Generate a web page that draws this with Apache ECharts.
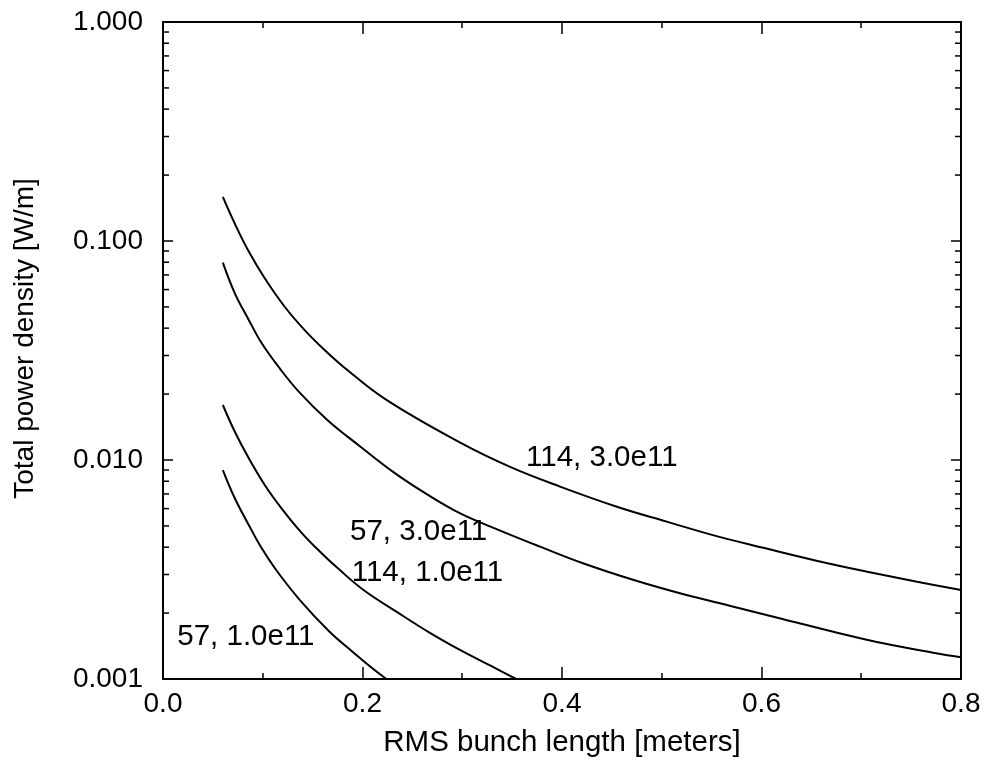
<!DOCTYPE html>
<html>
<head>
<meta charset="utf-8">
<script src="https://cdn.jsdelivr.net/npm/echarts@6/dist/echarts.min.js"></script>
<style>
html,body{margin:0;padding:0;background:#fff;}
#chart{width:985px;height:763px;}
</style>
</head>
<body>
<div id="chart"></div>
<script>
// ---- data ----
const xTickLabels = ['0.0','0.2','0.4','0.6','0.8'];
const yTickLabels = ['0.001','0.010','0.100','1.000'];

const xA = [0.06, 0.072, 0.086, 0.102, 0.122, 0.142, 0.162, 0.182, 0.224, 0.298, 0.348, 0.398, 0.455, 0.505, 0.555, 0.605, 0.655, 0.706, 0.756, 0.8];
const yA = [0.159, 0.120, 0.0895, 0.0676, 0.0501, 0.0392, 0.0318, 0.0264, 0.0188, 0.0120, 0.0093, 0.00756, 0.00612, 0.00523, 0.00449, 0.00394, 0.00347, 0.00309, 0.00278, 0.00255];

const xB = [0.06, 0.072, 0.086, 0.099, 0.117, 0.137, 0.165, 0.198, 0.231, 0.264, 0.298, 0.338, 0.378, 0.421, 0.472, 0.522, 0.572, 0.622, 0.672, 0.722, 0.772, 0.8];
const yB = [0.0796, 0.0577, 0.0436, 0.0341, 0.0262, 0.0203, 0.0152, 0.0115, 0.0088, 0.0070, 0.0057, 0.00476, 0.00402, 0.003376, 0.00283, 0.002436, 0.002138, 0.001874, 0.001644, 0.001455, 0.001318, 0.001256];

const xC = [0.06, 0.072, 0.086, 0.102, 0.119, 0.139, 0.159, 0.177, 0.201, 0.234, 0.268, 0.301, 0.335, 0.354];
const yC = [0.01783, 0.01346, 0.01018, 0.00769, 0.0060, 0.00465, 0.00375, 0.00315, 0.00255, 0.00203, 0.00162, 0.001332, 0.00111, 0.001];

const xD = [0.06, 0.072, 0.086, 0.099, 0.114, 0.137, 0.167, 0.188, 0.208, 0.224];
const yD = [0.0090, 0.00669, 0.00505, 0.00395, 0.00312, 0.0023, 0.001644, 0.001357, 0.001138, 0.001];

const seriesNames = ['114, 3.0e11', '57, 3.0e11', '114, 1.0e11', '57, 1.0e11'];
const annotationX = [0.364, 0.1875, 0.1892, 0.0143];
const annotationY = [0.0102, 0.00471, 0.00304, 0.00156];

const minorTickValues = [0.002,0.003,0.004,0.005,0.006,0.007,0.008,0.009,
                         0.02,0.03,0.04,0.05,0.06,0.07,0.08,0.09,
                         0.2,0.3,0.4,0.5,0.6,0.7,0.8,0.9];

const xMin = 0, xMax = 0.8, yMin = 0.001, yMax = 1;

// ---- chart ----
const FONT = 'Liberation Sans, Arial, Helvetica, sans-serif';
const chart = echarts.init(document.getElementById('chart'), null, {renderer: 'canvas'});
const zip = (xs, ys) => xs.map((x, i) => [x, ys[i]]);
const lineCurves = [zip(xA, yA), zip(xB, yB), zip(xC, yC), zip(xD, yD)];

const axisLineStyle = {color: '#000', width: 2};
const tickStyle = {color: '#000', width: 1.5};

const baseX = {
  type: 'value', min: xMin, max: xMax, interval: 0.2,
  axisLine: {show: true, onZero: false, lineStyle: axisLineStyle},
  axisTick: {show: true, inside: true, length: 12, lineStyle: tickStyle},
  minorTick: {show: true, splitNumber: 2, length: 6, lineStyle: tickStyle},
  splitLine: {show: false}, minorSplitLine: {show: false}
};
const baseY = {
  type: 'log', logBase: 10, min: yMin, max: yMax,
  axisLine: {show: true, onZero: false, lineStyle: axisLineStyle},
  axisTick: {show: true, inside: true, length: 10, lineStyle: tickStyle},
  splitLine: {show: false}
};

const option = {
  backgroundColor: '#fff',
  animation: false,
  grid: {left: 163, right: 24, top: 22, bottom: 84, containLabel: false},
  xAxis: [
    Object.assign({}, baseX, {
      position: 'bottom',
      axisLabel: {
        fontSize: 28, color: '#000', fontFamily: FONT, margin: 11,
        formatter: v => xTickLabels[Math.round(v / 0.2)] || v.toFixed(1)
      },
      name: 'RMS bunch length [meters]', nameLocation: 'middle', nameGap: 49,
      nameTextStyle: {fontSize: 29.5, color: '#000', fontFamily: FONT}
    }),
    Object.assign({}, baseX, {position: 'top', axisLabel: {show: false}})
  ],
  yAxis: [
    Object.assign({}, baseY, {
      position: 'left',
      axisLabel: {
        fontSize: 28, color: '#000', fontFamily: FONT, margin: 20,
        formatter: v => yTickLabels[Math.round(Math.log10(v) + 3)] || v.toFixed(3)
      },
      name: 'Total power density [W/m]', nameLocation: 'middle', nameGap: 124,
      nameTextStyle: {fontSize: 28, color: '#000', fontFamily: FONT, padding: [0, 0, 0, 24]}
    }),
    Object.assign({}, baseY, {position: 'right', axisLabel: {show: false}})
  ],
  series: [
    ...lineCurves.map((d, i) => ({
      name: seriesNames[i], type: 'line', data: d,
      showSymbol: false, symbol: 'none', smooth: 0.4,
      lineStyle: {color: '#000', width: 2}, silent: true, z: 3
    })),
    {
      type: 'scatter', symbolSize: 0, silent: true,
      itemStyle: {opacity: 1, color: '#000'},
      data: seriesNames.map((n, i) => ({value: [annotationX[i], annotationY[i]], name: n})),
      label: {
        show: true, position: 'right', distance: 0, opacity: 1,
        formatter: p => p.name,
        fontSize: 29.5, color: '#000', fontFamily: FONT
      }
    },
    {
      type: 'custom', silent: true, clip: false, z: 4,
      data: minorTickValues.map(v => [xMin, v]),
      encode: {x: 0, y: 1},
      renderItem: (params, api) => {
        const v = api.value(1);
        const pL = api.coord([xMin, v]);
        const pR = api.coord([xMax, v]);
        return {
          type: 'group',
          children: [
            {type: 'line', shape: {x1: pL[0], y1: pL[1], x2: pL[0] + 6, y2: pL[1]}, style: {stroke: '#000', lineWidth: 1.5}},
            {type: 'line', shape: {x1: pR[0], y1: pR[1], x2: pR[0] - 6, y2: pR[1]}, style: {stroke: '#000', lineWidth: 1.5}}
          ]
        };
      }
    }
  ]
};
chart.setOption(option);
</script>
</body>
</html>
